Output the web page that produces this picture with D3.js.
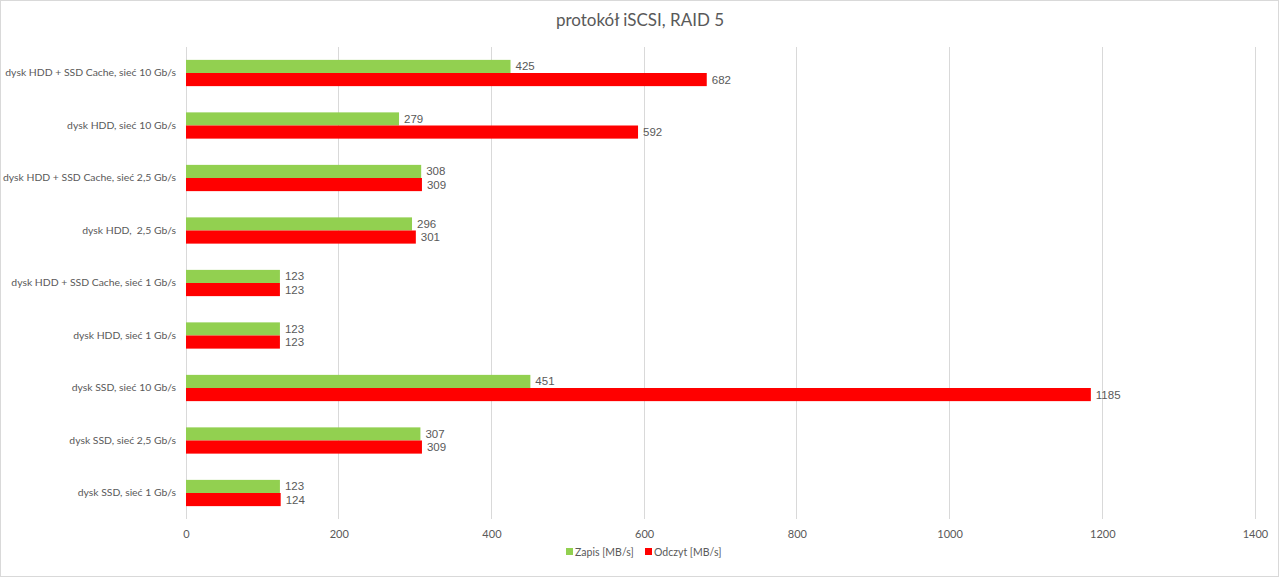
<!DOCTYPE html>
<html><head><meta charset="utf-8">
<script src="https://cdn.jsdelivr.net/npm/d3@7"></script>
<style>body{margin:0;background:#fff}svg{display:block}text{white-space:pre}</style>
</head><body>
<svg id="c" width="1280" height="578"></svg>
<script>
const categories = [
  "dysk HDD + SSD Cache, sieć 10 Gb/s",
  "dysk HDD, sieć 10 Gb/s",
  "dysk HDD + SSD Cache, sieć 2,5 Gb/s",
  "dysk HDD,  2,5 Gb/s",
  "dysk HDD + SSD Cache, sieć 1 Gb/s",
  "dysk HDD, sieć 1 Gb/s",
  "dysk SSD, sieć 10 Gb/s",
  "dysk SSD, sieć 2,5 Gb/s",
  "dysk SSD, sieć 1 Gb/s"
];
const zapis = [425, 279, 308, 296, 123, 123, 451, 307, 123];
const odczyt = [682, 592, 309, 301, 123, 123, 1185, 309, 124];
const seriesNames = ["Zapis [MB/s]", "Odczyt [MB/s]"];
const xTicks = [0, 200, 400, 600, 800, 1000, 1200, 1400];
const title = "protokół iSCSI, RAID 5";

const colors = ["#92D050", "#FF0000"];
const svg = d3.select("#c");
const W = 1280, H = 578;
const m = {left: 186, right: 25, top: 46.75, bottom: 58.75};
const font = "Lato, 'Open Sans', sans-serif";

svg.append("rect").attr("x",0.5).attr("y",0.5).attr("width",W-2).attr("height",H-2)
  .attr("fill","#fff").attr("stroke","#d9d9d9");

const x = d3.scaleLinear().domain([0, 1400]).range([m.left, W - m.right]);
const y = d3.scaleBand().domain(categories).range([m.top, H - m.bottom]).paddingInner(0.5).paddingOuter(0.25);
const sub = d3.scaleBand().domain([0,1]).range([0, y.bandwidth()]);

svg.append("g").selectAll("line").data(xTicks).join("line")
  .attr("x1", d => x(d)).attr("x2", d => x(d))
  .attr("y1", m.top).attr("y2", H - m.bottom)
  .attr("stroke", "#d9d9d9").attr("stroke-width", 1)
  .attr("shape-rendering","crispEdges");

const xa = svg.append("g").attr("transform", `translate(0,${H - m.bottom + 11})`)
  .call(d3.axisBottom(x).tickValues(xTicks).tickSize(0).tickPadding(0).tickFormat(d3.format("d")));
xa.select(".domain").remove();
xa.selectAll("text").attr("fill","#595959").style("font-family",font).style("font-size","11px");

const ya = svg.append("g").attr("transform", `translate(${m.left - 10},0)`)
  .call(d3.axisLeft(y).tickSize(0).tickPadding(0));
ya.select(".domain").remove();
ya.selectAll("text").attr("fill","#595959").style("font-family",font).style("font-size","10.4px");

const series = [zapis, odczyt];
series.forEach((vals, si) => {
  const g = svg.append("g");
  g.selectAll("rect").data(vals).join("rect")
    .attr("x", x(0))
    .attr("y", (d,i) => y(categories[i]) + sub(si))
    .attr("width", d => x(d) - x(0))
    .attr("height", sub.bandwidth())
    .attr("fill", colors[si]);
  g.selectAll("text").data(vals).join("text")
    .attr("x", d => x(d) + 5)
    .attr("y", (d,i) => y(categories[i]) + sub(si) + sub.bandwidth()/2)
    .attr("dy", "0.35em")
    .attr("fill", "#595959")
    .style("font-family", "'Liberation Sans', Arial, sans-serif")
    .style("font-size", "11.5px")
    .text(d => d);
});

svg.append("text").attr("x", 640).attr("y", 26).attr("text-anchor","middle")
  .attr("fill","#595959").style("font-family",font).style("font-size","17px")
  .text(title);

const lg = svg.append("g").attr("transform","translate(0,552)");
const legendX = [566, 645];
seriesNames.forEach((n, i) => {
  lg.append("rect").attr("x", legendX[i]).attr("y", -4).attr("width", 7).attr("height", 7).attr("fill", colors[i]);
  lg.append("text").attr("x", legendX[i] + 9).attr("y", 0).attr("dy","0.35em")
    .attr("fill","#595959").style("font-family",font).style("font-size","10.5px").text(n);
});
</script>
</body></html>
